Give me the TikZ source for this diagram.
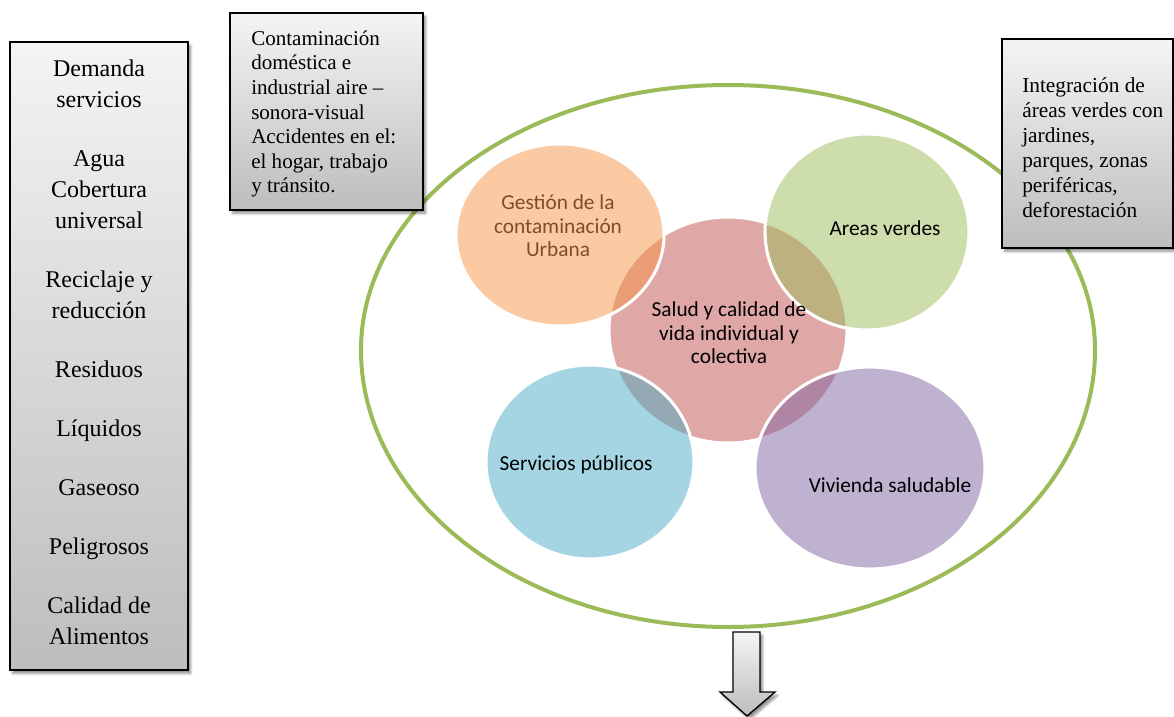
\documentclass[tikz,border=0pt]{standalone}
\usepackage{fontspec}
\setmainfont{Liberation Serif}
\newfontfamily\calfont{Carlito}
\usetikzlibrary{shapes.geometric,shadows.blur}
\definecolor{vgreen}{HTML}{9BBB59}
\definecolor{accOrange}{HTML}{F79646}
\definecolor{accRed}{HTML}{C0504D}
\definecolor{accGreen}{HTML}{9BBB59}
\definecolor{accBlue}{HTML}{4BACC6}
\definecolor{accPurple}{HTML}{8064A2}
\definecolor{boxtop}{HTML}{F4F4F4}
\definecolor{boxbot}{HTML}{BDBDBD}
\definecolor{brownText}{HTML}{7A4F2C}
\begin{document}
\begin{tikzpicture}[x=0.75pt,y=-0.75pt,
  graybox/.style={draw=black, line width=1pt, top color=boxtop, bottom color=boxbot, inner sep=0pt,
    blur shadow={shadow xshift=2pt, shadow yshift=-2.5pt, shadow blur steps=6, shadow opacity=45}},
  boxtext/.style={anchor=west, align=left, inner sep=0pt},
  venn/.style={ellipse, draw=white, line width=2.3pt, inner sep=0pt, fill opacity=0.5, draw opacity=1},
  venntext/.style={align=center, inner sep=0pt, font=\calfont\fontsize{16}{17.6}\selectfont}]
\useasboundingbox (0,0) rectangle (1174,717);

% big frame (slightly egg-shaped ellipse)
\draw[vgreen, line width=3pt]
  (361,350) arc[start angle=180, end angle=360, x radius=367, y radius=265]
            arc[start angle=0, end angle=180, x radius=367, y radius=277] -- cycle;

% left box
\node[graybox, minimum width=133.5pt, minimum height=471pt] (lbox) at (99,356) {};
\node[align=center, inner sep=0pt, font=\fontsize{18}{23.25}\selectfont] (ltext) at (99,352)
  {Demanda\\servicios\\[21pt]Agua\\Cobertura\\universal\\[21pt]Reciclaje y\\reducción\\[21pt]Residuos\\[21pt]Líquidos\\[21pt]Gaseoso\\[21pt]Peligrosos\\[21pt]Calidad de\\Alimentos};

% top box
\node[graybox, minimum width=144.75pt, minimum height=147.75pt] (tbox) at (326.5,111.5) {};
\node[boxtext, font=\fontsize{15.8}{18.4}\selectfont] (ttext) at (251,114)
  {Contaminación\\doméstica e\\industrial aire –\\sonora-visual\\Accidentes en el:\\el hogar, trabajo\\y tránsito.};

% right box
\node[graybox, minimum width=128.25pt, minimum height=156.75pt] (rbox) at (1087.5,143.5) {};
\node[boxtext, font=\fontsize{16}{18.75}\selectfont] (rtext) at (1022,148)
  {Integración de\\áreas verdes con\\jardines,\\parques, zonas\\periféricas,\\deforestación};

% venn circles
\node[venn, fill=accRed, minimum width=178.5pt, minimum height=169.5pt] (salud) at (728,330) {};
\node[venn, fill=accOrange, minimum width=156pt, minimum height=136.5pt] (gestion) at (560,235) {};
\node[venn, fill=accGreen, minimum width=153pt, minimum height=147pt] (areas) at (867,232) {};
\node[venn, fill=accBlue, minimum width=156pt, minimum height=145.5pt] (servicios) at (590,462) {};
\node[venn, fill=accPurple, minimum width=172.5pt, minimum height=151.5pt] (vivienda) at (870,468) {};

% venn texts
\node[venntext, text=brownText] (tgestion) at (558,226) {Gestión de la\\contaminación\\Urbana};
\node[venntext] (tsalud) at (729,333) {Salud y calidad de\\vida individual y\\colectiva};
\node[venntext] (tareas) at (885,228) {Areas verdes};
\node[venntext] (tservicios) at (576,465) {Servicios públicos};
\node[venntext] (tvivienda) at (890,485) {Vivienda saludable};

% down arrow
\path[draw=black, line width=1pt, top color=boxtop, bottom color=boxbot,
      blur shadow={shadow xshift=2pt, shadow yshift=-2.5pt, shadow blur steps=6, shadow opacity=45}]
  (733,632) -- (760,632) -- (760,692) -- (775,692) -- (747,716) -- (720,692) -- (733,692) -- cycle;
\end{tikzpicture}
\end{document}
